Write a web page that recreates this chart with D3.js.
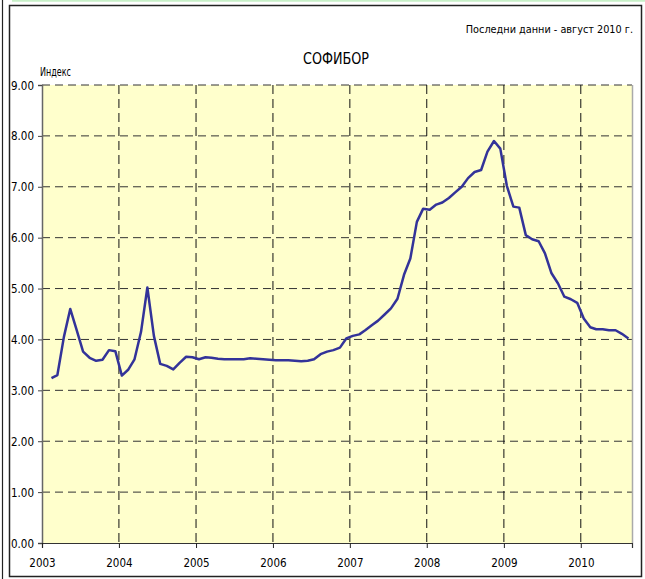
<!DOCTYPE html>
<html>
<head>
<meta charset="utf-8">
<script src="https://cdn.jsdelivr.net/npm/d3@7"></script>
<style>
  html, body { margin: 0; padding: 0; background: #fff; }
  svg { display: block; }
  text { font-family: "DejaVu Sans Condensed", "Liberation Sans Narrow", "Liberation Sans", sans-serif; fill: #000; }
</style>
</head>
<body>
<svg id="chart" width="645" height="579"></svg>
<script>
// ---- data (monthly SOFIBOR index, Feb 2003 – Aug 2010) ----
const firstMonth = "2003-02";
const values2003 = [3.24, 3.30, 4.05, 4.60, 4.18, 3.76, 3.64, 3.58, 3.60, 3.79, 3.77];
const values2004 = [3.29, 3.41, 3.61, 4.15, 5.02, 4.07, 3.52, 3.48, 3.41, 3.54, 3.66, 3.65];
const values2005 = [3.61, 3.65, 3.64, 3.62, 3.61, 3.61, 3.61, 3.61, 3.63, 3.62, 3.61, 3.60];
const values2006 = [3.59, 3.59, 3.59, 3.58, 3.57, 3.58, 3.61, 3.71, 3.76, 3.79, 3.84, 4.02];
const values2007 = [4.07, 4.10, 4.18, 4.28, 4.37, 4.49, 4.61, 4.80, 5.27, 5.59, 6.31, 6.57];
const values2008 = [6.55, 6.65, 6.69, 6.78, 6.89, 7.00, 7.17, 7.29, 7.33, 7.69, 7.90, 7.75];
const values2009 = [7.02, 6.61, 6.59, 6.05, 5.97, 5.93, 5.69, 5.30, 5.10, 4.84, 4.79, 4.72];
const values2010 = [4.41, 4.24, 4.20, 4.20, 4.18, 4.18, 4.11, 4.02];
const xTickYears = [2003, 2004, 2005, 2006, 2007, 2008, 2009, 2010];
const yTicks = [0, 1, 2, 3, 4, 5, 6, 7, 8, 9];
const titleText = "СОФИБОР";
const noteText = "Последни данни - август 2010 г.";
const yAxisTitle = "Индекс";

const allValues = [].concat(values2003, values2004, values2005, values2006,
                            values2007, values2008, values2009, values2010);
const start = d3.timeParse("%Y-%m")(firstMonth);
const series = allValues.map((v, i) => ({
  date: d3.timeDay.offset(d3.timeMonth.offset(start, i), 14),
  value: v
}));

// ---- layout ----
const svg = d3.select("#chart");
const plot = { left: 42, right: 632, top: 85, bottom: 543 };

// outer frame
svg.append("line").attr("x1", 2.5).attr("x2", 2.5).attr("y1", 0).attr("y2", 579)
  .attr("stroke", "#222").attr("stroke-width", 1.2);
svg.append("line").attr("x1", 12).attr("x2", 645).attr("y1", 0.8).attr("y2", 0.8)
  .attr("stroke", "#c8f0c8").attr("stroke-width", 2);
svg.append("rect").attr("x", 9.5).attr("y", 5.5).attr("width", 632).attr("height", 571)
  .attr("fill", "#fff").attr("stroke", "#222").attr("stroke-width", 1.5);

const x = d3.scaleTime()
  .domain([new Date(2003, 0, 1), new Date(2010, 8, 1)])
  .range([plot.left, plot.right]);
const y = d3.scaleLinear().domain([0, 9]).range([plot.bottom, plot.top]);

// plot background
svg.append("rect")
  .attr("x", plot.left).attr("y", plot.top)
  .attr("width", plot.right - plot.left).attr("height", plot.bottom - plot.top)
  .attr("fill", "#ffffcc");

// horizontal gridlines
svg.append("g").selectAll("line").data(yTicks.filter(d => d > 0)).join("line")
  .attr("x1", plot.left).attr("x2", plot.right)
  .attr("y1", d => y(d)).attr("y2", d => y(d))
  .attr("stroke", "#333").attr("stroke-width", 1).attr("stroke-dasharray", "8,5");

// vertical gridlines
const yearDates = xTickYears.map(yr => new Date(yr, 0, 1));
svg.append("g").selectAll("line").data(yearDates.slice(1)).join("line")
  .attr("x1", d => x(d)).attr("x2", d => x(d))
  .attr("y1", plot.top).attr("y2", plot.bottom)
  .attr("stroke", "#111").attr("stroke-width", 1).attr("stroke-dasharray", "9,5");

// right border (grey)
svg.append("line").attr("x1", plot.right + 0.5).attr("x2", plot.right + 0.5)
  .attr("y1", plot.top).attr("y2", plot.bottom)
  .attr("stroke", "#aaa").attr("stroke-width", 1.5);

// y axis
const yAxis = svg.append("g").attr("transform", `translate(${plot.left},0)`)
  .call(d3.axisLeft(y).tickValues(yTicks).tickFormat(d3.format(".2f")).tickSize(4).tickPadding(4));
yAxis.select(".domain").attr("stroke", "#666").attr("stroke-width", 1.5);
yAxis.selectAll(".tick line").attr("stroke", "#444");
yAxis.selectAll("text").attr("font-size", 11.5).attr("dy", "0.35em");

// x axis
const xAxis = svg.append("g").attr("transform", `translate(0,${plot.bottom})`)
  .call(d3.axisBottom(x).tickValues(yearDates).tickFormat(d3.timeFormat("%Y")).tickSize(5).tickPadding(11));
xAxis.select(".domain").attr("stroke", "#333").attr("stroke-width", 1.2);
xAxis.selectAll(".tick line").attr("stroke", "#222");
xAxis.selectAll("text").attr("font-size", 11.5);

// line
svg.append("path").datum(series)
  .attr("fill", "none").attr("stroke", "#333399").attr("stroke-width", 2.5)
  .attr("stroke-linejoin", "round")
  .attr("d", d3.line().x(d => x(d.date)).y(d => y(d.value)));

// texts
svg.append("text").attr("x", 633).attr("y", 33).attr("text-anchor", "end")
  .attr("font-size", 10.8)
  .text(noteText);
svg.append("text").attr("x", 336).attr("y", 64).attr("text-anchor", "middle")
  .attr("font-size", 16).attr("textLength", 66).attr("lengthAdjust", "spacingAndGlyphs")
  .text(titleText);
svg.append("text").attr("x", 40).attr("y", 76)
  .attr("font-size", 11.5).attr("textLength", 31).attr("lengthAdjust", "spacingAndGlyphs")
  .text(yAxisTitle);
</script>
</body>
</html>
